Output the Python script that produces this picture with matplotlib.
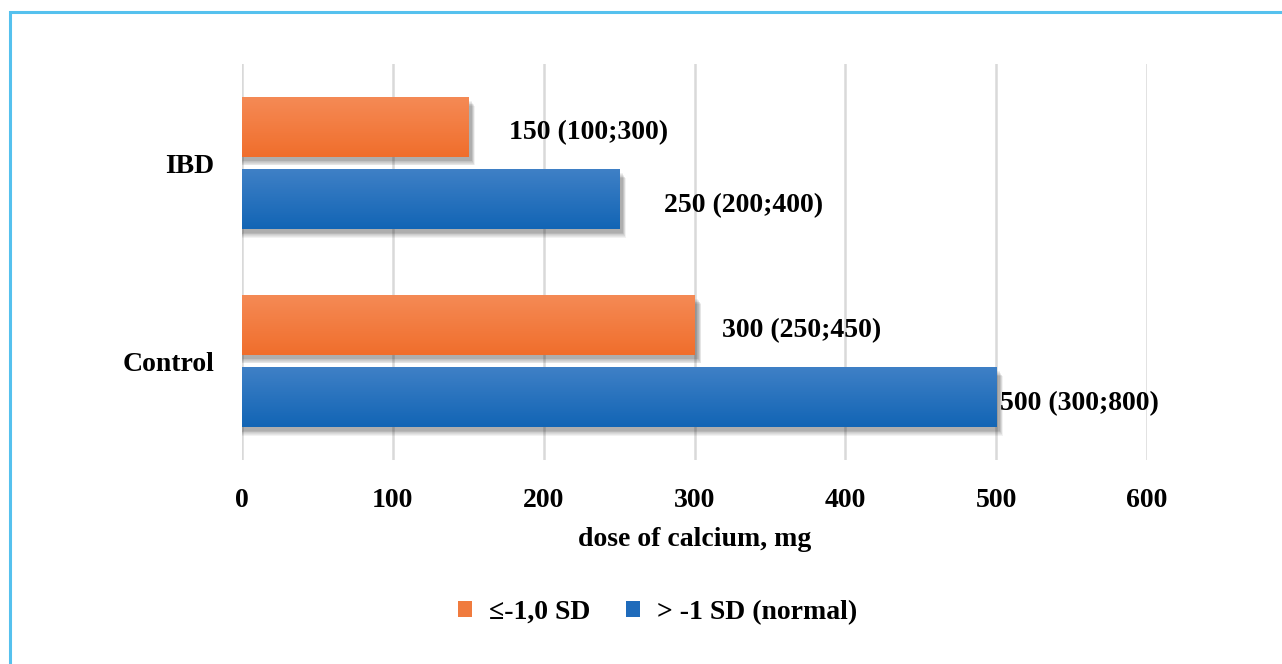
import numpy as np
import matplotlib
matplotlib.use("Agg")
import matplotlib.pyplot as plt
from matplotlib.patches import Rectangle, Patch
from matplotlib.colors import LinearSegmentedColormap

# Median daily calcium dose with interquartile range, by BMD group
categories = ["Control", "IBD"]
low_median = [300, 150]
low_q1 = [250, 100]
low_q3 = [450, 300]
normal_median = [500, 250]
normal_q1 = [300, 200]
normal_q3 = [800, 400]
series_labels = ["\u2264-1,0 SD", "> -1 SD (normal)"]
x_ticks = [0, 100, 200, 300, 400, 500, 600]

plt.rcParams["font.family"] = ["Liberation Serif", "DejaVu Serif"]
plt.rcParams["font.weight"] = "bold"

fig = plt.figure(figsize=(12.82, 6.64), dpi=100)
ax = fig.add_axes([0.1888, 0.3072, 0.7059, 0.5964])

orange_grad = LinearSegmentedColormap.from_list("og", ["#f06e2c", "#f58a55"])
blue_grad = LinearSegmentedColormap.from_list("bg", ["#1265b5", "#3f80c6"])

bar_h = 0.30
offset = 0.182
ypos = np.arange(len(categories))

# pixel sizes in data units (x span 600 over ~905 px, y span 2 over ~396 px)
px_x = 600 / 905
px_y = 2 / 396

def gradient_bar(y, width, cmap):
    # soft drop shadow, shifted down and to the right
    for k in range(7):
        ax.add_patch(Rectangle((-0 + (2 - k) * px_x * 0.3,
                                y - bar_h / 2 - (4 + k * 0.8) * px_y),
                               width + (3 + k * 0.8) * px_x,
                               bar_h,
                               facecolor="#000000", alpha=0.05, lw=0, zorder=2))
    grad = np.linspace(0, 1, 64).reshape(-1, 1)
    ax.imshow(grad, cmap=cmap, origin="lower", aspect="auto",
              extent=(0, width, y - bar_h / 2, y + bar_h / 2), zorder=3,
              interpolation="bicubic")

for i, y in enumerate(ypos):
    gradient_bar(y + offset, low_median[i], orange_grad)
    gradient_bar(y - offset, normal_median[i], blue_grad)

# value labels: median (Q1;Q3)
low_gap = [20, 29]
normal_gap = [3, 32]
for i, y in enumerate(ypos):
    ax.annotate(f"{low_median[i]} ({low_q1[i]};{low_q3[i]})",
                xy=(low_median[i], y + offset), xytext=(low_gap[i], -4),
                textcoords="offset points", va="center", ha="left",
                fontsize=20, fontweight="bold", zorder=5)
    ax.annotate(f"{normal_median[i]} ({normal_q1[i]};{normal_q3[i]})",
                xy=(normal_median[i], y - offset), xytext=(normal_gap[i], -5),
                textcoords="offset points", va="center", ha="left",
                fontsize=20, fontweight="bold", zorder=5)

ax.set_xlim(0, 600)
ax.set_ylim(-0.5, 1.5)
ax.set_xticks(x_ticks)
ax.set_xticklabels([str(t) for t in x_ticks])
ax.set_yticks(ypos)
ax.set_yticklabels(categories)
ax.tick_params(axis="both", length=0, labelsize=20, pad=20)
ax.grid(axis="x", color="#d9d9d9", lw=1.8, zorder=0)
ax.set_axisbelow(True)
for s in ax.spines.values():
    s.set_visible(False)
ax.set_xlabel("dose of calcium, mg", fontsize=20, fontweight="bold", labelpad=10)

handles = [Patch(facecolor="#f07b3e", edgecolor="none"),
           Patch(facecolor="#1f6bbb", edgecolor="none")]
fig.legend(handles, series_labels, loc="center", bbox_to_anchor=(0.513, 0.078),
           ncol=2, frameon=False, fontsize=20, handlelength=0.5, handleheight=0.5,
           handletextpad=0.6, columnspacing=1.3)

# frame around the figure
fig.add_artist(Rectangle((9.5 / 1282, -0.1), 1.2, 1 - 11.5 / 664 + 0.1,
                         transform=fig.transFigure, fill=False,
                         edgecolor="#55c1ee", lw=2.2))

fig.savefig("out.png", dpi=100)
